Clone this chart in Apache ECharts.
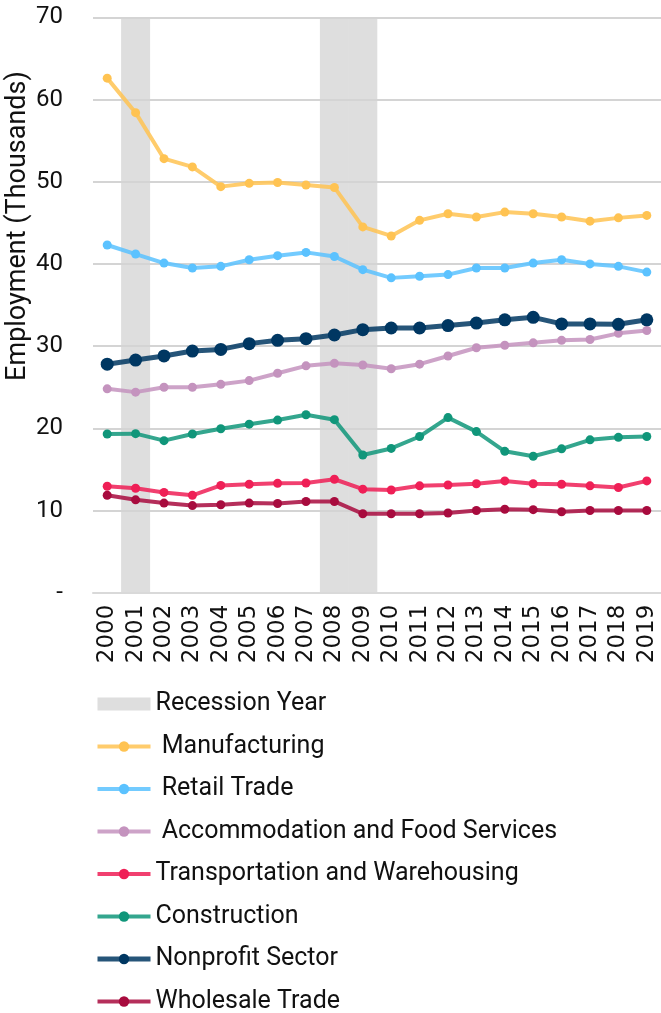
<!DOCTYPE html>
<html>
<head>
<meta charset="utf-8">
<script src="https://cdn.jsdelivr.net/npm/echarts@6/dist/echarts.min.js"></script>
<style>html,body{margin:0;padding:0;background:#fff}#c{width:661px;height:1013px}</style>
</head>
<body>
<div id="c"></div>
<script>
const years = ['2000','2001','2002','2003','2004','2005','2006','2007','2008','2009','2010','2011','2012','2013','2014','2015','2016','2017','2018','2019'];
const recessionYears = ['2001','2008','2009'];
const recessionHeight = 70;
const manufacturing = [62.6,58.4,52.8,51.8,49.4,49.8,49.9,49.6,49.3,44.5,43.4,45.3,46.1,45.7,46.3,46.1,45.7,45.2,45.6,45.9];
const retail = [42.3,41.2,40.1,39.5,39.7,40.5,41.0,41.4,40.9,39.3,38.3,38.5,38.7,39.5,39.5,40.1,40.5,40.0,39.7,39.0];
const accommodation = [24.8,24.4,25.0,25.0,25.35,25.8,26.7,27.6,27.9,27.7,27.25,27.8,28.8,29.8,30.1,30.4,30.7,30.8,31.55,31.9];
const transportation = [12.95,12.7,12.2,11.85,13.05,13.2,13.3,13.35,13.8,12.6,12.5,13.0,13.1,13.25,13.6,13.25,13.2,13.0,12.8,13.6];
const construction = [19.3,19.35,18.5,19.3,19.95,20.5,21.0,21.65,21.05,16.75,17.55,19.0,21.3,19.6,17.2,16.6,17.5,18.6,18.9,19.0];
const nonprofit = [27.8,28.3,28.8,29.4,29.6,30.3,30.7,30.9,31.35,32.0,32.2,32.2,32.5,32.8,33.2,33.5,32.7,32.7,32.65,33.2];
const wholesale = [11.85,11.3,10.9,10.6,10.7,10.9,10.85,11.1,11.1,9.6,9.6,9.6,9.7,10.0,10.15,10.1,9.85,10.0,10.0,10.0];
const yTicks = [0,10,20,30,40,50,60,70];

const recessionData = years.map(y => recessionYears.includes(y) ? recessionHeight : null);

function lineSeries(name, data, color, lw, sym) {
  return {
    name: name, type: 'line', data: data,
    symbol: 'circle', symbolSize: sym,
    itemStyle: {color: color},
    lineStyle: {color: color, width: lw, opacity: 0.85},
    emphasis: {disabled: true}
  };
}
function legendItem(name, lw) {
  return {name: name, lineStyle: {width: lw, opacity: 0.85}};
}

const chart = echarts.init(document.getElementById('c'), null, {renderer: 'canvas'});
chart.setOption({
  animation: false,
  grid: {left: 93, top: 17.3, bottom: 420.3, width: 568, containLabel: false},
  xAxis: {
    type: 'category', data: years, boundaryGap: true,
    axisTick: {show: false},
    axisLine: {lineStyle: {color: '#d9d9d9', width: 2}},
    axisLabel: {rotate: 90, margin: 12, interval: 0, color: '#111', fontFamily: 'DejaVu Sans', fontSize: 23}
  },
  yAxis: {
    type: 'value', min: 0, max: 70, interval: 10,
    axisLine: {show: false}, axisTick: {show: false},
    splitLine: {lineStyle: {color: '#d4d4d4', width: 2}},
    axisLabel: {margin: 30, color: '#111', fontFamily: 'Roboto', fontSize: 24,
      formatter: v => v === 0 ? '-' : String(v)}
  },
  graphic: [{
    type: 'text', x: 18, y: 226, rotation: Math.PI / 2,
    style: {text: 'Employment (Thousands)', font: '27px Roboto', fill: '#111', textAlign: 'center', textVerticalAlign: 'middle'}
  }],
  legend: {
    orient: 'vertical', left: 95, top: 689, height: 330, padding: 0,
    itemWidth: 53, itemHeight: 13, itemGap: 12.5,
    textStyle: {fontFamily: 'Roboto', fontSize: 25, color: '#111', lineHeight: 30},
    data: [
      {name: 'Recession Year', icon: 'rect'},
      legendItem(' Manufacturing', 4), legendItem(' Retail Trade', 4),
      legendItem(' Accommodation and Food Services', 4),
      legendItem('Transportation and Warehousing', 4), legendItem('Construction', 4),
      legendItem('Nonprofit Sector', 5), legendItem('Wholesale Trade', 4)
    ]
  },
  series: [
    {name: 'Recession Year', type: 'bar', data: recessionData, barWidth: 29, barGap: '-100%', z: -1,
     itemStyle: {color: '#dedede'}, emphasis: {disabled: true}},
    lineSeries(' Manufacturing', manufacturing, '#FFC352', 4, 9),
    lineSeries(' Retail Trade', retail, '#5BC2FF', 4, 9),
    lineSeries(' Accommodation and Food Services', accommodation, '#C493BE', 4, 9),
    lineSeries('Transportation and Warehousing', transportation, '#EF1F56', 4, 9),
    lineSeries('Construction', construction, '#10967A', 4, 9),
    lineSeries('Nonprofit Sector', nonprofit, '#003762', 5, 13),
    lineSeries('Wholesale Trade', wholesale, '#A80B3E', 4, 9)
  ]
});
</script>
</body>
</html>
